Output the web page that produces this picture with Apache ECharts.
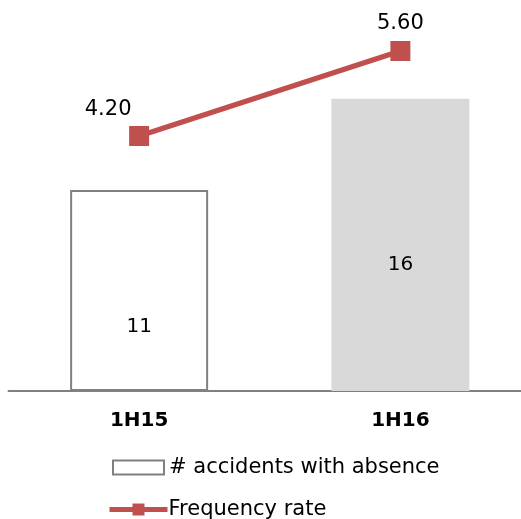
<!DOCTYPE html>
<html>
<head>
<meta charset="utf-8">
<script src="https://cdn.jsdelivr.net/npm/echarts@6/dist/echarts.min.js"></script>
<style>
  html, body { margin: 0; padding: 0; background: #fff; overflow: hidden; }
  #chart { width: 531px; height: 519px; }
</style>
</head>
<body>
<div id="chart"></div>
<script>
const categories = ['1H15', '1H16'];
const accidents = [11, 16];
const frequencyRate = [4.20, 5.60];

const chart = echarts.init(document.getElementById('chart'));

// label placement per bar / point
const barLabelPos = [['50%', '68%'], ['50%', '57%']];
const lineLabelOffset = [[-31, -1], [0, -2]];

const legendText = { fontSize: 21, color: '#000', fontFamily: 'DejaVu Sans' };

const option = {
  animation: false,
  textStyle: { fontFamily: 'DejaVu Sans' },
  grid: { left: 8.5, right: 0, top: 0, bottom: 128 },
  legend: [
    {
      left: 107,
      top: 452,
      itemWidth: 51,
      itemHeight: 14,
      itemGap: 0,
      textStyle: legendText,
      data: [
        { name: '# accidents with absence', icon: 'rect',
          itemStyle: { color: '#fff', borderColor: '#808080', borderWidth: 2 } }
      ]
    },
    {
      left: 102,
      top: 494,
      itemWidth: 58,
      itemHeight: 15,
      itemGap: 0,
      textStyle: Object.assign({ padding: [0, 0, 0, -4] }, legendText),
      data: [{ name: 'Frequency rate', lineStyle: { width: 5 } }]
    }
  ],
  xAxis: {
    type: 'category',
    data: categories,
    axisLine: { lineStyle: { color: '#808080', width: 2 } },
    axisTick: { show: false },
    axisLabel: { fontSize: 20, fontWeight: 'bold', color: '#000', margin: 20 }
  },
  yAxis: [
    { type: 'value', min: 0, max: 21.4, show: false, splitLine: { show: false } },
    { type: 'value', min: 0, max: 6.44, show: false, splitLine: { show: false } }
  ],
  series: [
    {
      name: '# accidents with absence',
      type: 'bar',
      barWidth: 138,
      data: accidents.map((v, i) => ({
        value: v,
        itemStyle: i === 0
          ? { color: '#fff', borderColor: '#808080', borderWidth: 2 }
          : { color: '#d9d9d9' },
        label: { position: barLabelPos[i] }
      })),
      label: {
        show: true,
        fontSize: 20,
        color: '#000',
        align: 'center',
        verticalAlign: 'middle'
      }
    },
    {
      name: 'Frequency rate',
      type: 'line',
      yAxisIndex: 1,
      symbol: 'rect',
      symbolSize: 20,
      itemStyle: { color: '#c0504d' },
      lineStyle: { color: '#c0504d', width: 5.5 },
      data: frequencyRate.map((v, i) => ({
        value: v,
        label: { offset: lineLabelOffset[i] }
      })),
      label: {
        show: true,
        position: 'top',
        fontSize: 21,
        color: '#000',
        formatter: p => p.value.toFixed(2)
      }
    }
  ]
};

chart.setOption(option);
</script>
</body>
</html>
